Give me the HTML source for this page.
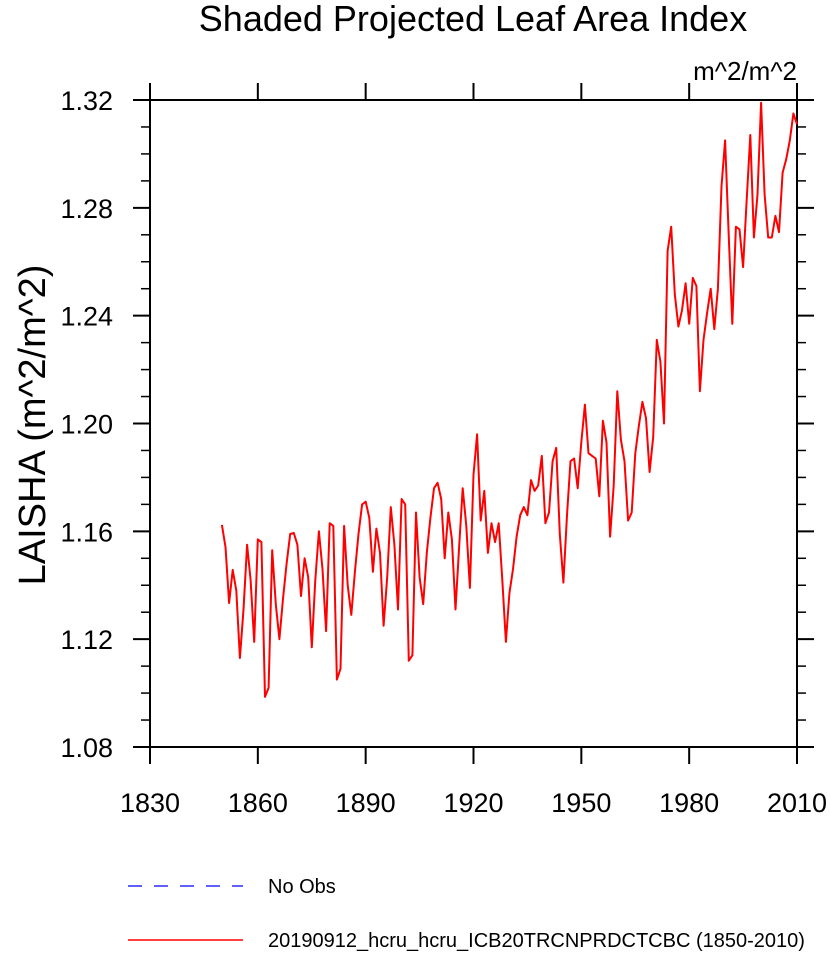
<!DOCTYPE html>
<html><head><meta charset="utf-8"><style>
body{margin:0;background:#fff;}
svg text{font-family:"Liberation Sans",sans-serif;}
</style></head><body>
<svg width="830" height="952" xmlns="http://www.w3.org/2000/svg">
<text x="473" y="31" font-size="36" text-anchor="middle">Shaded Projected Leaf Area Index</text>
<text x="797" y="80" font-size="26" text-anchor="end">m^2/m^2</text>
<text transform="translate(45,425) rotate(-90)" font-size="38" text-anchor="middle">LAISHA  (m^2/m^2)</text>
<g id="axes"></g>
<polyline id="series" fill="none" stroke="#ff0000" stroke-width="2" stroke-linejoin="round"/>
<line x1="128" y1="886" x2="243" y2="886" stroke="#0000ff" stroke-width="1.3" stroke-dasharray="14,12"/>
<text x="268" y="893" font-size="20">No Obs</text>
<line x1="128" y1="940" x2="243" y2="940" stroke="#ff0000" stroke-width="1.5"/>
<text x="268" y="947" font-size="20">20190912_hcru_hcru_ICB20TRCNPRDCTCBC (1850-2010)</text>
</svg>
<script>
const years=[];for(let y=1850;y<=2010;y++)years.push(y);
const values=[1.1624,1.1542,1.1334,1.1457,1.138,1.113,1.131,1.155,1.142,1.119,
1.157,1.156,1.0986,1.102,1.153,1.133,1.120,1.135,1.148,1.159,
1.1594,1.155,1.136,1.150,1.143,1.117,1.142,1.160,1.146,1.123,
1.163,1.162,1.105,1.109,1.162,1.140,1.129,1.145,1.159,1.170,
1.171,1.165,1.145,1.161,1.152,1.125,1.143,1.169,1.155,1.131,
1.172,1.170,1.112,1.114,1.167,1.143,1.133,1.152,1.165,1.176,
1.178,1.172,1.150,1.167,1.157,1.131,1.154,1.176,1.162,1.139,
1.181,1.196,1.164,1.175,1.152,1.163,1.156,1.163,1.142,1.119,
1.137,1.146,1.158,1.166,1.169,1.166,1.179,1.175,1.177,1.188,
1.163,1.167,1.186,1.191,1.159,1.141,1.166,1.186,1.187,1.176,
1.193,1.207,1.189,1.188,1.187,1.173,1.201,1.193,1.158,1.177,
1.212,1.194,1.186,1.164,1.167,1.189,1.199,1.208,1.202,1.182,
1.195,1.231,1.223,1.200,1.264,1.273,1.248,1.236,1.242,1.252,
1.237,1.254,1.251,1.212,1.231,1.241,1.250,1.235,1.250,1.288,
1.305,1.270,1.237,1.273,1.272,1.258,1.283,1.307,1.269,1.285,
1.319,1.285,1.269,1.269,1.277,1.271,1.293,1.298,1.305,1.315,1.311];
const xTicks=[1830,1860,1890,1920,1950,1980,2010];
const yTicks=[1.08,1.12,1.16,1.20,1.24,1.28,1.32];
const yTickLabels=["1.08","1.12","1.16","1.20","1.24","1.28","1.32"];
const L=150,R=797,T=100,B=747,X0=1830,X1=2010,Y0=1.08,Y1=1.32;
const sx=v=>L+(v-X0)/(X1-X0)*(R-L);
const sy=v=>B-(v-Y0)/(Y1-Y0)*(B-T);
const NS="http://www.w3.org/2000/svg";
const g=document.getElementById('axes');
function line(x1,y1,x2,y2,name,w){const l=document.createElementNS(NS,'line');
l.setAttribute('x1',x1);l.setAttribute('y1',y1);l.setAttribute('x2',x2);l.setAttribute('y2',y2);
l.setAttribute('stroke','#000');l.setAttribute('stroke-width',w||2);


g.appendChild(l);}
function text(x,y,s,name,anchor){const t=document.createElementNS(NS,'text');
t.setAttribute('x',x);t.setAttribute('y',y);t.setAttribute('font-size','27');t.setAttribute('text-anchor',anchor);t.textContent=s;


g.appendChild(t);}
const fr=document.createElementNS(NS,'rect');
fr.setAttribute('x',L);fr.setAttribute('y',T);fr.setAttribute('width',R-L);fr.setAttribute('height',B-T);
fr.setAttribute('fill','none');fr.setAttribute('stroke','#000');fr.setAttribute('stroke-width','2');


g.appendChild(fr);
xTicks.forEach(v=>{const x=sx(v);line(x,B,x,B+17,'x-tick');line(x,T,x,T-17,'x-tick-top');text(x,812,String(v),'x-tick-label','middle');});
yTicks.forEach((v,i)=>{const y=sy(v);line(L,y,L-17,y,'y-tick');line(R,y,R+17,y,'y-tick-right');text(113,y+10,yTickLabels[i],'y-tick-label','end');});
for(let k=0;k<=24;k++){if(k%4){const y=sy(Y0+k*0.01);line(L,y,L-9,y,'y-minor-tick',1.5);line(R,y,R+9,y,'y-minor-tick-right',1.5);}}
document.getElementById('series').setAttribute('points',years.map((yr,i)=>sx(yr).toFixed(1)+','+sy(values[i]).toFixed(1)).join(' '));
</script>
</body></html>
